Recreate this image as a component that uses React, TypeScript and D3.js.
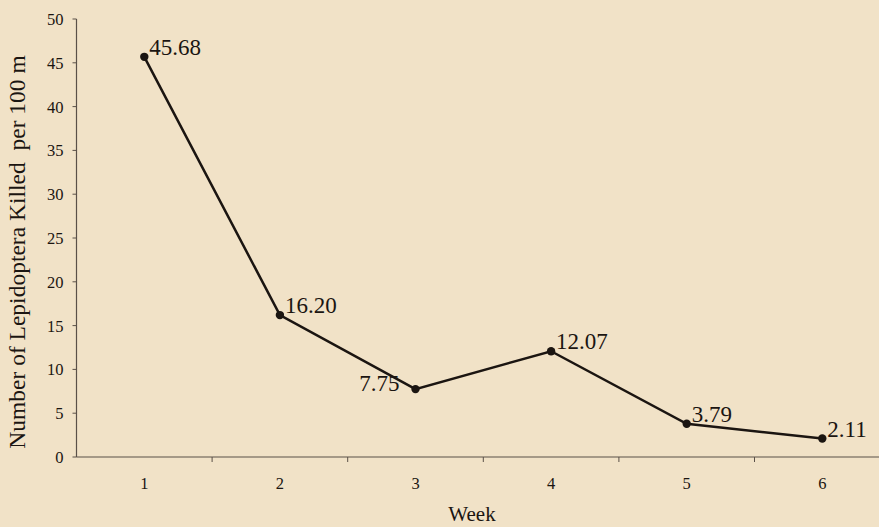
import React from "react";
import * as d3 from "d3";

const weeks = ["1", "2", "3", "4", "5", "6"];
const killed = [45.68, 16.2, 7.75, 12.07, 3.79, 2.11];
const yTicks = [0, 5, 10, 15, 20, 25, 30, 35, 40, 45, 50];
const labelText = ["45.68", "16.20", "7.75", "12.07", "3.79", "2.11"];
const labelSide = ["right", "right", "left", "right", "right", "right"];

export default function App() {
  const W = 879, H = 527;
  const x0 = 76.5, band = 135.6;
  const x = d3.scaleBand().domain(weeks).range([x0, x0 + band * weeks.length]).padding(0);
  const y = d3.scaleLinear().domain([0, 50]).range([457, 19]);
  const cx = (w: string) => (x(w) as number) + x.bandwidth() / 2;
  const line = d3.line<number>().x((_, i) => cx(weeks[i])).y((d) => y(d));
  const font = "'Liberation Serif', 'Times New Roman', serif";
  const ink = "#1b1511";
  const axisCol = "#5a5048";
  return (
    <svg width={W} height={H} style={{ position: "absolute", left: 0, top: 0, background: "#f1e2c7" }}>
      <rect x={0} y={0} width={W} height={H} fill="#f1e2c7" />
      <line x1={x0} x2={x0} y1={y(50)} y2={y(0)} stroke={axisCol} strokeWidth={1.2} />
      {yTicks.map((t) => (
        <g key={t}>
          <line x1={x0 - 4} x2={x0} y1={y(t)} y2={y(t)} stroke={axisCol} strokeWidth={1} />
          <text x={x0 - 13} y={y(t) + 6} textAnchor="end" fontFamily={font} fontSize={16.5} fill={ink}>{t}</text>
        </g>
      ))}
      <line x1={x0} x2={W} y1={y(0)} y2={y(0)} stroke={axisCol} strokeWidth={1.2} />
      {weeks.map((w, i) => (
        <g key={w}>
          {i > 0 && <line x1={x(w) as number} x2={x(w) as number} y1={y(0)} y2={y(0) + 5} stroke={axisCol} strokeWidth={1} />}
          <text x={cx(w)} y={y(0) + 32} textAnchor="middle" fontFamily={font} fontSize={16.5} fill={ink}>{w}</text>
        </g>
      ))}
      <text x={472} y={521} textAnchor="middle" fontFamily={font} fontSize={21} fill={ink}>Week</text>
      <text transform={`translate(25, 252) rotate(-90)`} textAnchor="middle" fontFamily={font} fontSize={23.5} fill={ink} style={{ whiteSpace: "pre" }}>
        Number of Lepidoptera Killed  per 100 m
      </text>
      <path d={line(killed) || ""} fill="none" stroke={ink} strokeWidth={2.5} />
      {killed.map((v, i) => (
        <circle key={i} cx={cx(weeks[i])} cy={y(v)} r={4.2} fill={ink} />
      ))}
      {killed.map((v, i) => {
        const px = cx(weeks[i]);
        const py = y(v);
        const left = labelSide[i] === "left";
        return (
          <text key={i} x={left ? px - 16 : px + 5} y={left ? py + 2 : py - 2} textAnchor={left ? "end" : "start"} fontFamily={font} fontSize={23} fill={ink}>
            {labelText[i]}
          </text>
        );
      })}
    </svg>
  );
}
